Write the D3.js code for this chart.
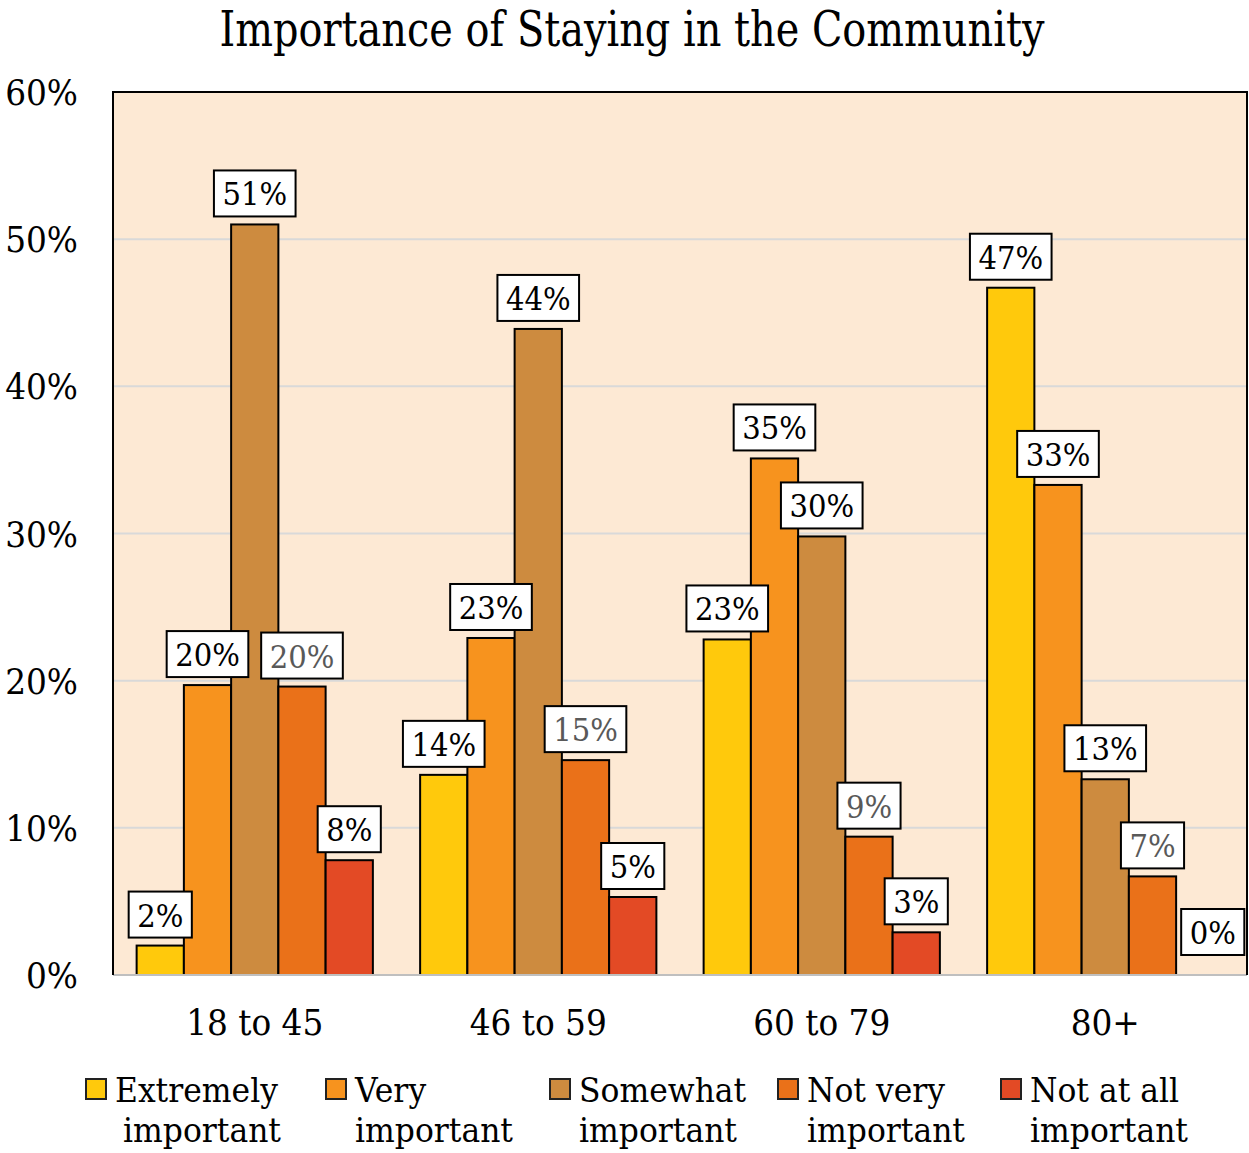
<!DOCTYPE html>
<html><head><meta charset="utf-8">
<script src="https://cdn.jsdelivr.net/npm/d3@7"></script>
<style>body{margin:0;background:#fff;}svg{display:block;}</style>
</head><body>
<svg id="chart" width="1249" height="1153"></svg>
<script>
const title = "Importance of Staying in the Community";
const categories = ["18 to 45", "46 to 59", "60 to 79", "80+"];
const seriesNames = ["Extremely important", "Very important", "Somewhat important", "Not very important", "Not at all important"];
const legendLines = [["Extremely", "important"], ["Very", "important"], ["Somewhat", "important"], ["Not very", "important"], ["Not at all", "important"]];
const colors = ["#FFC90C", "#F7931E", "#CD8B3F", "#EA7119", "#E34A25"];
const labelColors = ["#000", "#000", "#000", "#595959", "#000"];
const extremely = [0.020, 0.136, 0.228, 0.467];
const very = [0.197, 0.229, 0.351, 0.333];
const somewhat = [0.510, 0.439, 0.298, 0.133];
const notVery = [0.196, 0.146, 0.094, 0.067];
const notAtAll = [0.078, 0.053, 0.029, 0.000];
const yTicks = [0, 0.1, 0.2, 0.3, 0.4, 0.5, 0.6];

(function () {
const seriesValues = [extremely, very, somewhat, notVery, notAtAll];
const FONT = "DejaVu Serif";
const svg = d3.select("#chart");

// horizontal compression factors to mimic the narrow reference typeface
function measure(s, size) {
  const p = svg.append("text").attr("font-family", FONT).attr("font-size", size).text(s);
  const w = p.node().getComputedTextLength();
  p.remove();
  return w;
}
const sxTitle = 825 / measure(title, 48);
const sx = 163 / measure("Extremely", 34);

function txt(parent, x, y, s, size, anchor, fill, k) {
  return parent.append("text")
    .attr("transform", `translate(${x},${y}) scale(${k || sx},1)`)
    .attr("font-family", FONT).attr("font-size", size)
    .attr("text-anchor", anchor || "start").attr("fill", fill || "#000")
    .text(s);
}

const pL = 113, pR = 1247, pT = 92, pB = 975;
const x0 = d3.scaleBand().domain(categories).range([pL, pR]).paddingInner(1/6).paddingOuter(1/12);
const x1 = d3.scaleBand().domain(d3.range(seriesNames.length)).range([0, x0.bandwidth()]);
const y = d3.scaleLinear().domain([0, 0.6]).range([pB, pT]);

svg.append("rect").attr("x", pL).attr("y", pT).attr("width", pR - pL).attr("height", pB - pT).attr("fill", "#FDE9D4");

svg.append("g").selectAll("line").data(yTicks.filter(d => d > 0 && d < 0.6)).join("line")
  .attr("x1", pL).attr("x2", pR).attr("y1", d => y(d)).attr("y2", d => y(d))
  .attr("stroke", "#D9D9D9").attr("stroke-width", 2);

const groups = svg.append("g").selectAll("g").data(categories).join("g")
  .attr("transform", d => `translate(${x0(d)},0)`);
groups.selectAll("rect").data((c, ci) => seriesValues.map((arr, si) => ({si, v: arr[ci]})).filter(d => d.v > 0)).join("rect")
  .attr("x", d => x1(d.si)).attr("width", x1.bandwidth())
  .attr("y", d => y(d.v)).attr("height", d => y(0) - y(d.v))
  .attr("fill", d => colors[d.si]).attr("stroke", "#000").attr("stroke-width", 2);

svg.append("line").attr("x1", pL).attr("x2", pR).attr("y1", pB).attr("y2", pB)
  .attr("stroke", "#BFBFBF").attr("stroke-width", 2);

svg.append("path").attr("d", `M${pL},${pB}V${pT}H${pR}V${pB}`)
  .attr("fill", "none").attr("stroke", "#000").attr("stroke-width", 2);

const labelG = svg.append("g");
categories.forEach((c, ci) => {
  seriesValues.forEach((arr, si) => {
    const v = arr[ci];
    let cx = x0(c) + x1(si) + x1.bandwidth() / 2;
    let boxBottom = y(v) - 8;
    if (v === 0) { cx += 13; boxBottom = y(0) - 20; }
    const g = labelG.append("g");
    const box = g.append("rect");
    const baseline = boxBottom - 11;
    const t = txt(g, cx, baseline, d3.format(".0%")(v), 31.5, "middle", labelColors[si]);
    const w = t.node().getComputedTextLength() * sx + 17;
    box.attr("x", cx - w / 2).attr("y", boxBottom - 46).attr("width", w).attr("height", 46)
      .attr("fill", "#fff").attr("stroke", "#000").attr("stroke-width", 2);
  });
});

const yAxis = svg.append("g");
yTicks.forEach(d => txt(yAxis, 78, y(d) + 13, d3.format(".0%")(d), 35.5, "end"));

const xAxis = svg.append("g");
categories.forEach(c => txt(xAxis, x0(c) + x0.bandwidth() / 2, 1035, c, 35.5, "middle"));

txt(svg, 632, 46, title, 48, "middle", "#000", sxTitle);

const legendX = [86, 326, 550, 778, 1001];
const leg = svg.append("g");
legendLines.forEach((lines, i) => {
  leg.append("rect").attr("x", legendX[i]).attr("y", 1079).attr("width", 20).attr("height", 20)
    .attr("fill", colors[i]).attr("stroke", "#222").attr("stroke-width", 2);
  txt(leg, legendX[i] + 29, 1102, lines[0], 34, "start");
  txt(leg, legendX[i] + 29 + (i === 0 ? 8 : 0), 1142, lines[1], 34, "start");
});
})();
</script>
</body></html>
